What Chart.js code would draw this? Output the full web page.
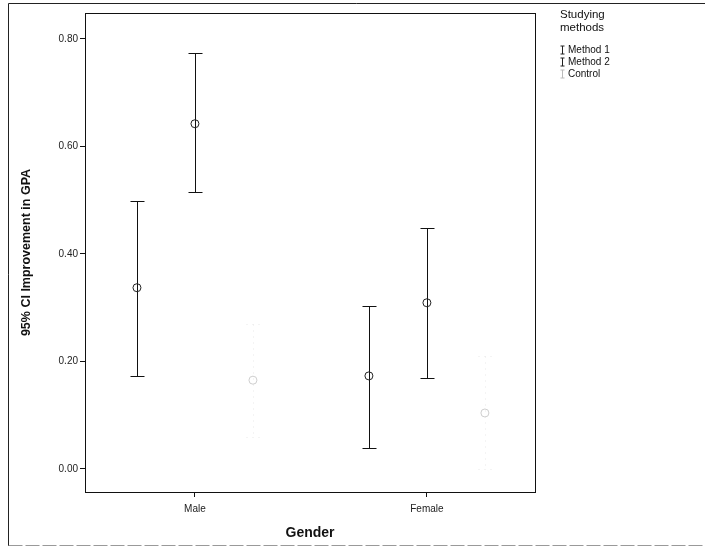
<!DOCTYPE html>
<html>
<head>
<meta charset="utf-8">
<script src="https://cdn.jsdelivr.net/npm/chart.js@4"></script>
<style>
  html, body { margin: 0; padding: 0; background: #fff; }
  #wrap { width: 705px; height: 559px; }
</style>
</head>
<body>
<div id="wrap"><canvas id="myChart" width="705" height="559"></canvas></div>
<script>
// data
var genders = ['Male', 'Female'];
var methods = ['Method 1', 'Method 2', 'Control'];
var yTicks = [0, 0.2, 0.4, 0.6, 0.8];

var meanM1 = [0.337, 0.173];
var lowM1  = [0.173, 0.039];
var highM1 = [0.499, 0.303];

var meanM2 = [0.642, 0.309];
var lowM2  = [0.515, 0.169];
var highM2 = [0.774, 0.449];

var meanCtl = [0.165, 0.104];
var lowCtl  = [0.06, 0.0];
var highCtl = [0.27, 0.21];

// styling
var offsets = [-0.25, 0, 0.25];
var lineColors = ['#111', '#111', '#e8e8e8'];
var markColors = ['#222', '#222', '#cfcfcf'];
var dashes = [[], [], [1, 5]];
var font = "'Liberation Sans', Arial, sans-serif";

function points(means, lows, highs, k) {
  return genders.map(function (g, i) {
    return { x: i + 1 + offsets[k], y: means[i], lo: lows[i], hi: highs[i] };
  });
}

var series = [
  points(meanM1, lowM1, highM1, 0),
  points(meanM2, lowM2, highM2, 1),
  points(meanCtl, lowCtl, highCtl, 2)
];

var errorBars = {
  id: 'errorBars',
  beforeDatasetsDraw: function (chart) {
    var ctx = chart.ctx, xs = chart.scales.x, ys = chart.scales.y;
    chart.data.datasets.forEach(function (ds, k) {
      ctx.save();
      ctx.strokeStyle = lineColors[k];
      ctx.lineWidth = 1;
      ds.data.forEach(function (p) {
        var px = Math.round(xs.getPixelForValue(p.x)) + 0.5;
        var top = Math.round(ys.getPixelForValue(p.hi)) + 0.5;
        var bot = Math.round(ys.getPixelForValue(p.lo)) + 0.5;
        ctx.setLineDash(dashes[k]);
        ctx.beginPath();
        ctx.moveTo(px, top); ctx.lineTo(px, bot);
        ctx.stroke();
        ctx.beginPath();
        ctx.moveTo(px - 7, top); ctx.lineTo(px + 7, top);
        ctx.moveTo(px - 7, bot); ctx.lineTo(px + 7, bot);
        ctx.stroke();
        ctx.setLineDash([]);
      });
      ctx.restore();
    });
  }
};

var frame = {
  id: 'frame',
  beforeDraw: function (chart) {
    var ctx = chart.ctx;
    ctx.save();
    ctx.fillStyle = '#fff';
    ctx.fillRect(0, 0, chart.width, chart.height);
    ctx.strokeStyle = '#222';
    ctx.lineWidth = 1;
    ctx.beginPath();
    ctx.moveTo(8.5, 546); ctx.lineTo(8.5, 3.5); ctx.lineTo(705, 3.5);
    ctx.stroke();
    ctx.strokeStyle = '#999';
    ctx.setLineDash([14, 3]);
    ctx.beginPath();
    ctx.moveTo(8.5, 545.5); ctx.lineTo(705, 545.5);
    ctx.stroke();
    ctx.restore();
  },
  afterDraw: function (chart) {
    var ctx = chart.ctx, a = chart.chartArea;
    ctx.save();
    ctx.strokeStyle = '#111';
    ctx.lineWidth = 1;
    ctx.strokeRect(Math.round(a.left) + 0.5, Math.round(a.top) + 0.5,
      Math.round(a.right - a.left), Math.round(a.bottom - a.top));

    // legend
    ctx.fillStyle = '#111';
    ctx.textBaseline = 'middle';
    ctx.font = '11.5px ' + font;
    ctx.fillText('Studying', 560, 15);
    ctx.fillText('methods', 560, 28);
    ctx.font = '10px ' + font;
    methods.forEach(function (m, k) {
      var y = 50 + k * 12;
      ctx.strokeStyle = k == 2 ? '#bbb' : '#222';
      ctx.beginPath();
      ctx.moveTo(562.5, y - 4); ctx.lineTo(562.5, y + 4);
      ctx.moveTo(560.5, y - 4); ctx.lineTo(564.5, y - 4);
      ctx.moveTo(560.5, y + 4); ctx.lineTo(564.5, y + 4);
      ctx.stroke();
      ctx.fillStyle = '#111';
      ctx.fillText(m, 568, y);
    });
    ctx.restore();
  }
};

var ctx = document.getElementById('myChart').getContext('2d');
var myChart = new Chart(ctx, {
  type: 'scatter',
  data: {
    datasets: series.map(function (d, k) {
      return {
        label: methods[k],
        data: d,
        pointStyle: 'circle',
        pointRadius: 4,
        pointHoverRadius: 4,
        pointBorderWidth: 1,
        pointBackgroundColor: 'rgba(0,0,0,0)',
        pointBorderColor: markColors[k],
        showLine: false
      };
    })
  },
  options: {
    responsive: false,
    animation: false,
    events: [],
    layout: { padding: { left: 0, top: 13, right: 170, bottom: 0 } },
    plugins: { legend: { display: false }, tooltip: { enabled: false } },
    scales: {
      x: {
        type: 'linear',
        min: 0.526,
        max: 2.466,
        afterBuildTicks: function (s) { s.ticks = [{ value: 1 }, { value: 2 }]; },
        afterFit: function (s) { s.height = 67; },
        ticks: {
          callback: function (v) { return genders[v - 1]; },
          font: { family: font, size: 10 },
          color: '#222',
          padding: 6,
          maxRotation: 0
        },
        grid: { drawOnChartArea: false, tickLength: 5, color: '#111' },
        border: { color: '#111' },
        title: {
          display: true,
          text: 'Gender',
          font: { family: font, size: 14, weight: 'bold' },
          color: '#111',
          padding: { top: 0, bottom: 17 }
        }
      },
      y: {
        min: -0.043,
        max: 0.848,
        afterBuildTicks: function (s) { s.ticks = yTicks.map(function (v) { return { value: v }; }); },
        afterFit: function (s) { s.width = 85; },
        ticks: {
          callback: function (v) { return v.toFixed(2); },
          font: { family: font, size: 10 },
          color: '#222',
          padding: 2
        },
        grid: { drawOnChartArea: false, tickLength: 5, color: '#111' },
        border: { color: '#111' },
        title: {
          display: true,
          text: '95% CI Improvement in GPA',
          font: { family: font, size: 12.5, weight: 'bold' },
          color: '#111',
          padding: { top: 19, bottom: 0 }
        }
      }
    }
  },
  plugins: [frame, errorBars]
});
</script>
</body>
</html>
